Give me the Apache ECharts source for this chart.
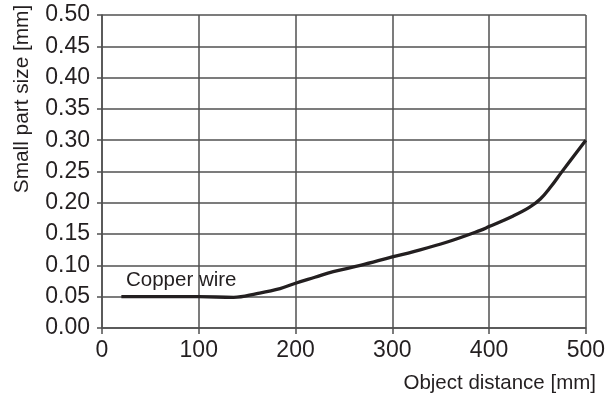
<!DOCTYPE html>
<html>
<head>
<meta charset="utf-8">
<style>
  html, body { margin: 0; padding: 0; background: #fff; }
  #chart { width: 608px; height: 398px; }
</style>
<script src="https://cdn.jsdelivr.net/npm/echarts@6/dist/echarts.min.js"></script>
</head>
<body>
<div id="chart"></div>
<script>
// Object distance [mm] and the smallest detectable part size [mm] at that distance
const distance = [20, 60, 100, 136, 160, 184, 200, 220, 239, 267, 300, 322, 356, 391, 400, 425, 442, 453, 464, 475, 500];
const partSize = [0.050, 0.050, 0.050, 0.049, 0.055, 0.063, 0.0715, 0.081, 0.090, 0.100, 0.1135, 0.122, 0.137, 0.156, 0.162, 0.179, 0.193, 0.206, 0.226, 0.249, 0.300];

const xTicks = { min: 0, max: 500, step: 100 };
const yTicks = { min: 0, max: 0.5, step: 0.05 };

const seriesName = 'Copper wire';
const xTitle = 'Object distance [mm]';
const yTitle = 'Small part size [mm]';

const font = 'Liberation Sans, Arial, Helvetica, sans-serif';
const ink = '#231f20';
const gridInk = '#505050';

const chart = echarts.init(document.getElementById('chart'), null, { renderer: 'canvas' });

const points = distance.map((d, i) => [d, partSize[i]]);

chart.setOption({
  animation: false,
  backgroundColor: '#fff',
  grid: { left: 102, right: 22, top: 15, bottom: 70, containLabel: false },
  xAxis: {
    type: 'value',
    min: xTicks.min, max: xTicks.max, interval: xTicks.step,
    axisLine: { show: true, lineStyle: { color: gridInk, width: 1.5 } },
    axisTick: { show: true, length: 6, lineStyle: { color: gridInk, width: 1.5 } },
    axisLabel: { color: ink, fontFamily: font, fontSize: 23, margin: 11 },
    splitLine: { show: true, lineStyle: { color: gridInk, width: 1.5 } }
  },
  yAxis: {
    type: 'value',
    min: yTicks.min, max: yTicks.max, interval: yTicks.step,
    axisLine: { show: true, lineStyle: { color: gridInk, width: 1.5 } },
    axisTick: { show: true, length: 5, lineStyle: { color: gridInk, width: 1.5 } },
    axisLabel: {
      color: ink, fontFamily: font, fontSize: 23, margin: 12,
      formatter: v => v.toFixed(2)
    },
    splitLine: { show: true, lineStyle: { color: gridInk, width: 1.5 } }
  },
  series: [{
    name: seriesName,
    type: 'line',
    data: points,
    smooth: 0.4,
    showSymbol: false,
    lineStyle: { color: ink, width: 3.3 },
    z: 5
  }],
  graphic: [
    {
      type: 'text', x: 126, y: 280, z: 10,
      style: { text: seriesName, fill: ink, font: '20.5px ' + font, textAlign: 'left', textVerticalAlign: 'middle' }
    },
    {
      type: 'text', x: 596, y: 383, z: 10,
      style: { text: xTitle, fill: ink, font: '20.5px ' + font, textAlign: 'right', textVerticalAlign: 'middle' }
    },
    {
      type: 'text', x: 22, y: 99, rotation: Math.PI / 2, z: 10,
      style: { text: yTitle, fill: ink, font: '20.8px ' + font, textAlign: 'center', textVerticalAlign: 'middle' }
    }
  ]
});
</script>
</body>
</html>
